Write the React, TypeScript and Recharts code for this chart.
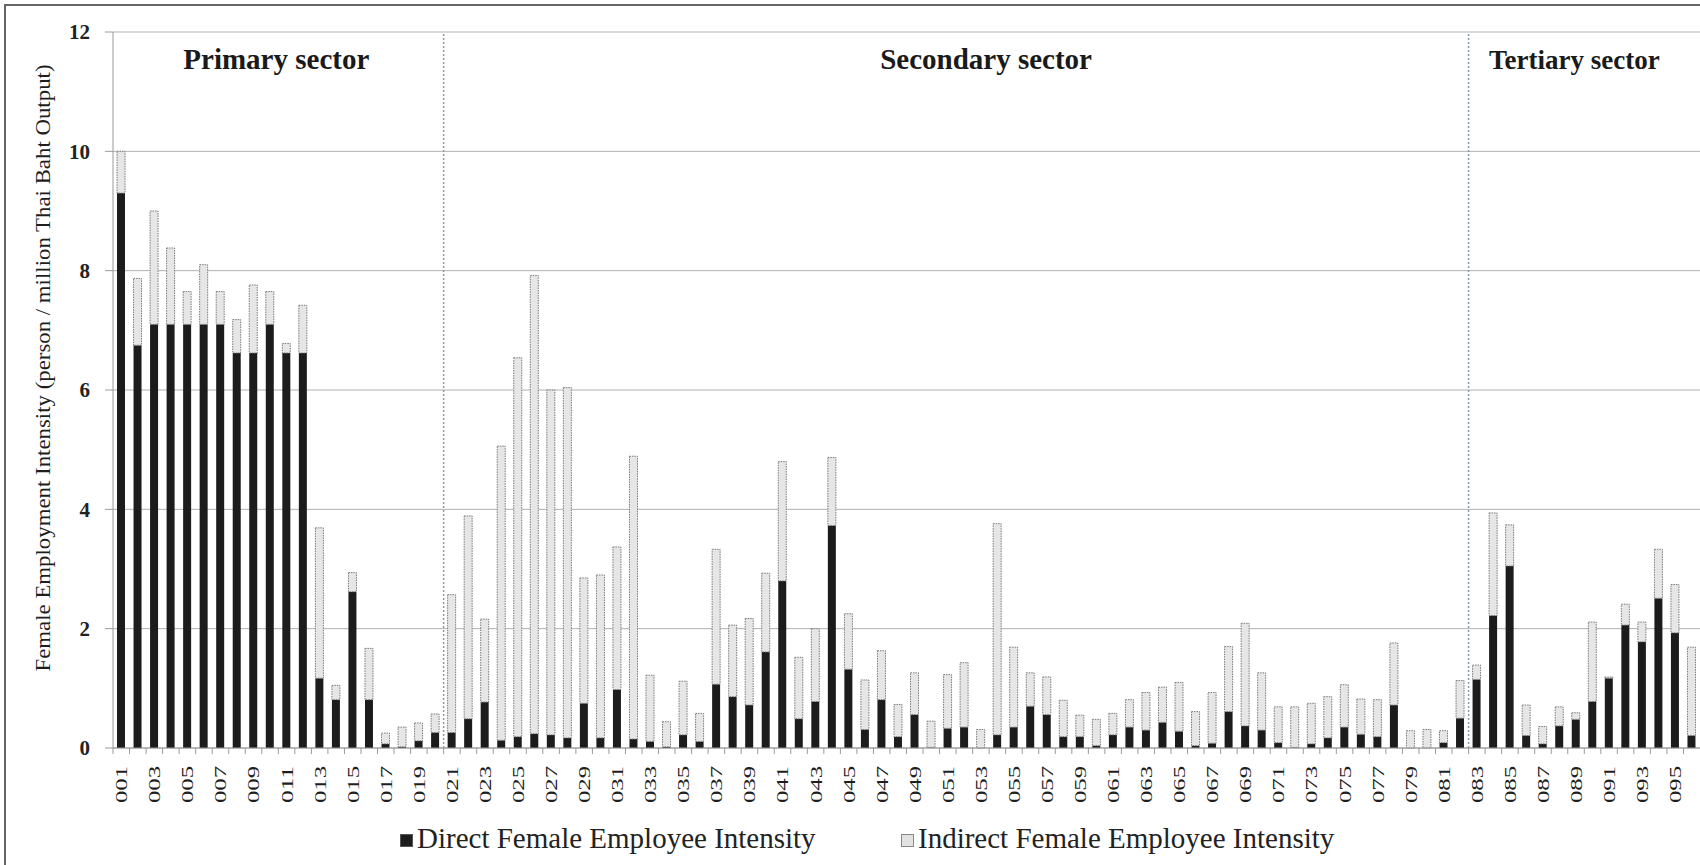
import React from "react";
import {
  BarChart, Bar, XAxis, YAxis, CartesianGrid, ReferenceLine, ReferenceArea,
} from "recharts";

// sector codes 001..096
const sectorCodes = [
  "001", "002", "003", "004", "005", "006", "007", "008", "009", "010", "011", "012",
  "013", "014", "015", "016", "017", "018", "019", "020", "021", "022", "023", "024",
  "025", "026", "027", "028", "029", "030", "031", "032", "033", "034", "035", "036",
  "037", "038", "039", "040", "041", "042", "043", "044", "045", "046", "047", "048",
  "049", "050", "051", "052", "053", "054", "055", "056", "057", "058", "059", "060",
  "061", "062", "063", "064", "065", "066", "067", "068", "069", "070", "071", "072",
  "073", "074", "075", "076", "077", "078", "079", "080", "081", "082", "083", "084",
  "085", "086", "087", "088", "089", "090", "091", "092", "093", "094", "095", "096",
];

const directIntensity = [
  9.3, 6.75, 7.1, 7.1, 7.1, 7.1, 7.1, 6.62, 6.62, 7.1, 6.62, 6.62,
  1.17, 0.81, 2.62, 0.81, 0.07, 0.02, 0.12, 0.26, 0.26, 0.49, 0.77, 0.13,
  0.19, 0.24, 0.22, 0.17, 0.75, 0.17, 0.98, 0.15, 0.11, 0.02, 0.22, 0.11,
  1.07, 0.86, 0.72, 1.61, 2.8, 0.49, 0.78, 3.73, 1.32, 0.31, 0.81, 0.19,
  0.56, 0.01, 0.33, 0.35, 0.0, 0.22, 0.35, 0.7, 0.56, 0.19, 0.19, 0.04,
  0.22, 0.35, 0.3, 0.43, 0.28, 0.04, 0.08, 0.61, 0.37, 0.3, 0.09, 0.01,
  0.07, 0.17, 0.35, 0.23, 0.19, 0.72, 0.0, 0.0, 0.09, 0.5, 1.15, 2.22,
  3.05, 0.21, 0.07, 0.37, 0.48, 0.78, 1.17, 2.06, 1.78, 2.51, 1.93, 0.21,
];

const indirectIntensity = [
  0.7, 1.12, 1.9, 1.28, 0.55, 1.0, 0.55, 0.56, 1.14, 0.55, 0.16, 0.8,
  2.52, 0.24, 0.32, 0.86, 0.18, 0.33, 0.3, 0.31, 2.31, 3.4, 1.39, 4.93,
  6.35, 7.68, 5.78, 5.87, 2.1, 2.73, 2.39, 4.74, 1.11, 0.42, 0.9, 0.47,
  2.26, 1.2, 1.45, 1.32, 2.0, 1.03, 1.22, 1.14, 0.93, 0.83, 0.82, 0.54,
  0.7, 0.44, 0.9, 1.08, 0.31, 3.54, 1.34, 0.56, 0.63, 0.61, 0.36, 0.44,
  0.36, 0.46, 0.63, 0.59, 0.82, 0.57, 0.85, 1.09, 1.72, 0.96, 0.6, 0.68,
  0.68, 0.69, 0.71, 0.59, 0.62, 1.04, 0.29, 0.31, 0.2, 0.63, 0.24, 1.72,
  0.69, 0.51, 0.29, 0.32, 0.11, 1.33, 0.02, 0.35, 0.33, 0.82, 0.81, 1.48,
];

const yTicks = [0, 2, 4, 6, 8, 10, 12];

const sectorNames = ["Primary sector", "Secondary sector", "Tertiary sector"];
const sectorFirst = ["001", "021", "083"];
const sectorLast = ["020", "082", "096"];

const seriesNames = ["Direct Female Employee Intensity", "Indirect Female Employee Intensity"];
const yTitle = "Female Employment Intensity (person / million Thai Baht Output)";

const data = sectorCodes.map((code, i) => ({
  code,
  direct: directIntensity[i],
  indirect: indirectIntensity[i],
}));

const W = 1700;
const H = 865;
const PLOT_LEFT = 113;
const serif = "'Liberation Serif', 'Times New Roman', serif";
const band = (W - PLOT_LEFT) / sectorCodes.length;

// label nudges and sizes for the sector titles
const sectorShift = [-2, 30, -10];
const sectorFont = [29, 29, 27];

function CodeTick(props: any) {
  const { x, y, payload, index } = props;
  const axisY = y - 6;
  const edge = x - band / 2;
  return (
    <g>
      <line x1={edge} x2={edge} y1={axisY} y2={axisY + 6} stroke="#9a9a9a" />
      {index % 2 === 0 && (
        <text
          x={x}
          y={axisY + 18}
          dy="0.35em"
          transform={`rotate(-90 ${x} ${axisY + 18})`}
          textAnchor="end"
          fontFamily={serif}
          fontSize={17}
          textLength={37}
          lengthAdjust="spacingAndGlyphs"
          fill="#1e1e1e"
        >
          {payload.value}
        </text>
      )}
    </g>
  );
}

function YTitle(props: any) {
  const vb = props.viewBox;
  const cx = vb.x + 29;
  const cy = vb.y + vb.height / 2 - 22;
  return (
    <text
      x={cx}
      y={cy}
      dy="0.35em"
      transform={`rotate(-90 ${cx} ${cy})`}
      textAnchor="middle"
      fontFamily={serif}
      fontSize={22}
      textLength={607}
      lengthAdjust="spacingAndGlyphs"
      fill="#1e1e1e"
    >
      {yTitle}
    </text>
  );
}

function sectorLabel(i: number) {
  return (props: any) => {
    const vb = props.viewBox;
    return (
      <text
        x={vb.x + vb.width / 2 + sectorShift[i]}
        y={vb.y + 37}
        textAnchor="middle"
        fontFamily={serif}
        fontWeight="bold"
        fontSize={sectorFont[i]}
        fill="#1a1a1a"
      >
        {sectorNames[i]}
      </text>
    );
  };
}

function LegendItem({ left, label, fill, border }: any) {
  return (
    <div
      style={{
        position: "absolute", left, top: 824, display: "flex", alignItems: "center",
        fontFamily: serif, fontSize: 29, lineHeight: 1, color: "#222", whiteSpace: "nowrap",
      }}
    >
      <span
        style={{
          display: "inline-block", width: 11, height: 11, background: fill,
          border: `1px solid ${border}`, marginRight: 4, marginTop: 4,
        }}
      />
      {label}
    </div>
  );
}

export default function App() {
  return (
    <div style={{ position: "absolute", left: 0, top: 0, width: W, height: H, overflow: "hidden", background: "#fff" }}>
      <div
        style={{
          position: "absolute", left: 4, top: 4, width: W, height: H,
          borderLeft: "2px solid #666", borderTop: "2px solid #666",
        }}
      />
      <BarChart
        width={W}
        height={H}
        data={data}
        margin={{ top: 32, right: 0, left: 13, bottom: 67 }}
        barSize={8}
        style={{ position: "absolute", left: 0, top: 0 }}
      >
        <CartesianGrid vertical={false} stroke="#b0b0b0" />
        <XAxis
          dataKey="code"
          interval={0}
          height={50}
          tickSize={6}
          tickMargin={0}
          tickLine={false}
          axisLine={{ stroke: "#9a9a9a" }}
          tick={<CodeTick />}
        />
        <YAxis
          width={100}
          domain={[0, 12]}
          ticks={yTicks}
          tickSize={8}
          tickMargin={15}
          axisLine={{ stroke: "#9a9a9a" }}
          tickLine={{ stroke: "#9a9a9a" }}
          tick={{ fontFamily: serif, fontSize: 21, fontWeight: "bold", fill: "#222" }}
          label={{ content: <YTitle /> }}
        />
        {sectorNames.map((name, i) => (
          <ReferenceArea
            key={name}
            x1={sectorFirst[i]}
            x2={sectorLast[i]}
            fill="none"
            fillOpacity={0}
            stroke="none"
            label={{ content: sectorLabel(i) }}
          />
        ))}
        {sectorFirst.slice(1).map((code) => (
          <ReferenceLine
            key={code}
            x={code}
            position="start"
            stroke="#8a9aa8"
            strokeDasharray="2 2"
            strokeWidth={1.5}
          />
        ))}
        <Bar dataKey="direct" name={seriesNames[0]} stackId="fei" fill="#1c1c1c" isAnimationActive={false} />
        <Bar
          dataKey="indirect"
          name={seriesNames[1]}
          stackId="fei"
          fill="#e6e6e6"
          stroke="#7a7a7a"
          strokeWidth={1}
          strokeDasharray="1.5 1"
          isAnimationActive={false}
        />
      </BarChart>
      <LegendItem left={400} label={seriesNames[0]} fill="#1c1c1c" border="#555" />
      <LegendItem left={901} label={seriesNames[1]} fill="#e2e2e2" border="#888" />
    </div>
  );
}
